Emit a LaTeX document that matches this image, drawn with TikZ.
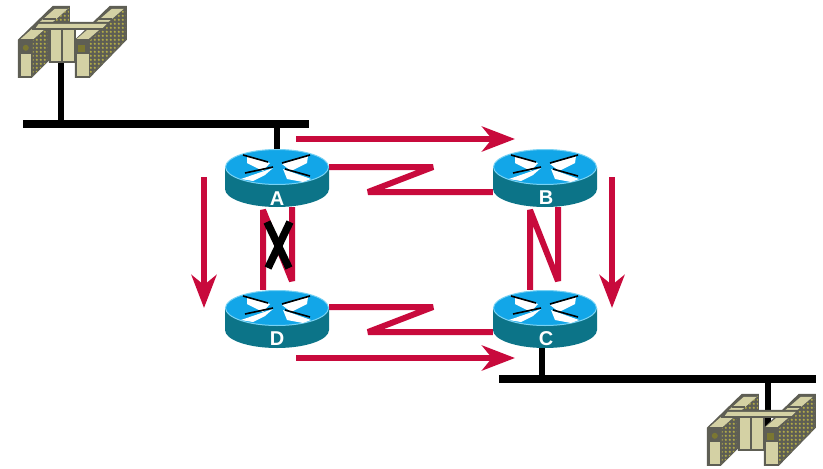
\documentclass[tikz,border=0pt]{standalone}
\usepackage{fontspec}
\setsansfont{Liberation Sans}
\usetikzlibrary{arrows.meta}

\definecolor{linkred}{HTML}{C80A3C}
\definecolor{routertop}{HTML}{12A6E8}
\definecolor{routerrim}{HTML}{78D2F4}
\definecolor{routerside}{HTML}{0C7488}
\definecolor{serverdark}{HTML}{5E5E54}
\definecolor{serverlight}{HTML}{D4D1A4}
\definecolor{serverdot}{HTML}{B0AA48}

\tikzset{
    routerbox/.style={minimum width=104pt, minimum height=58pt, inner sep=0pt},
    serverbox/.style={minimum width=109pt, minimum height=72pt, inner sep=0pt},
    routername/.style={white, font=\sffamily\bfseries\fontsize{20}{20}\selectfont, inner sep=0pt},
    lan/.style={black, line width=7.5pt},
    stub/.style={black, line width=6pt},
    link/.style={linkred, line width=6pt, line join=bevel},
    flow/.style={linkred, line width=6pt, -{Stealth[length=33pt,width=25pt,inset=10pt]}},
    cross/.style={black, line width=7.5pt},
    router/.pic={
        \fill[routerside] (-52,-11) -- (-52,11) arc (180:360:52pt and 18pt) -- (52,-11) -- cycle;
        \fill[routertop, draw=routerrim, line width=1pt] (0,-11) ellipse (51.5pt and 17.5pt);
        \fill[white] (-30,-22) -- (-7,-15) -- (-14,-7) -- (-30,-15) -- cycle;
        \fill[white] (31,-22) -- (5,-14) -- (14,-7) -- (30,-15) -- cycle;
        \fill[white] (-36,1) -- (-4,-10) -- (-12,-3) -- (-24,3) -- cycle;
        \fill[white] (6,-9) -- (34,1) -- (26,4) -- (10,1) -- cycle;
        \draw[black, line width=1.6pt] (-34,-23) -- (-9,-16);
        \draw[black, line width=1.6pt] (33,-23) -- (5,-15);
        \draw[black, line width=1.6pt] (-32,-5) -- (-4,-11);
        \draw[black, line width=1.6pt] (8,-9) -- (33,-2);
    },
    server/.pic={
        % left bank
        \fill[serverdark] (0,34) -- (35,0) -- (52,0) -- (52,18) -- (31,18) -- (31,55) -- (14,72) -- (0,72) -- cycle;
        \begin{scope}
            \clip (15,35) -- (51,2) -- (51,17) -- (30,17) -- (30,55) -- (15,70) -- cycle;
            \foreach \i in {0,...,9} \foreach \j in {0,...,17}
                \fill[serverdot] (15+4*\i,2+4*\j) circle (1.2pt);
        \end{scope}
        \fill[serverlight] (3,33) -- (37,3) -- (50,3) -- (16,33) -- cycle;
        \draw[serverdark, line width=1.5pt] (14,23) -- (27,23) (25,13) -- (38,13);
        \fill[serverlight] (3,48) rectangle (13,70);
        \fill[serverdot!70!black] (8,42) circle (3pt);
        % right bank
        \fill[serverdark] (57,34) -- (92,0) -- (109,0) -- (109,34) -- (72,72) -- (57,72) -- cycle;
        \begin{scope}
            \clip (72,35) -- (108,2) -- (108,34) -- (72,70) -- cycle;
            \foreach \i in {0,...,9} \foreach \j in {0,...,17}
                \fill[serverdot] (73+4*\i,2+4*\j) circle (1.2pt);
        \end{scope}
        \fill[serverlight] (59,33) -- (94,3) -- (106,3) -- (71,33) -- cycle;
        \draw[serverdark, line width=1.5pt] (70,23) -- (83,23) (81,13) -- (94,13);
        \fill[serverlight] (59,48) rectangle (71,70);
        \fill[serverdot!70!black] (60,39) rectangle (67,46);
        % middle cabinet
        \fill[serverdark] (13,23) -- (19,16) -- (93,16) -- (86,24) -- (58,24) -- (58,57) -- (31,57) -- (31,24) -- cycle;
        \fill[serverlight] (18,22) -- (21,18) -- (89,18) -- (85,22) -- cycle;
        \fill[serverlight] (33,24) rectangle (43.5,55);
        \fill[serverlight] (45.5,24) rectangle (56,55);
    },
}

\begin{document}
\begin{tikzpicture}[x=1pt,y=-1pt]
    \useasboundingbox (0,0) rectangle (823,469);

    \node[routerbox] (A) at (277,178) {};
    \node[routerbox] (B) at (545,178) {};
    \node[routerbox] (C) at (545,319) {};
    \node[routerbox] (D) at (277,319) {};
    \node[serverbox] (S1) at (72.5,42) {};
    \node[serverbox] (S2) at (761.5,430) {};

    \coordinate (L1) at (23,124);
    \coordinate (L2) at (309,124);
    \coordinate (L3) at (499,379);
    \coordinate (L4) at (816,379);

    \coordinate (AB1) at (433,167);
    \coordinate (AB2) at (368,192);
    \coordinate (DC1) at (433,307);
    \coordinate (DC2) at (368,332);
    \coordinate (AD1) at (263,210);
    \coordinate (AD2) at (292,281);
    \coordinate (BC1) at (530,210);
    \coordinate (BC2) at (558,281);

    \coordinate (F1) at (296,139);
    \coordinate (F2) at (515,139);
    \coordinate (F3) at (204,177);
    \coordinate (F4) at (204,308);
    \coordinate (F5) at (296,358);
    \coordinate (F6) at (515,358);
    \coordinate (F7) at (612,177);
    \coordinate (F8) at (612,308);

    \coordinate (X1) at (267,222);
    \coordinate (X2) at (289,268);
    \coordinate (X3) at (290,222);
    \coordinate (X4) at (268,268);

%lans
    \draw[stub] ([xshift=-11.5pt]S1.center) -- ([xshift=-11.5pt]S1.center |- L1);
    \draw[stub] (A.center) -- (A.center |- L1);
    \draw[stub] (C.center -| 542,0) -- (542,379);
    \draw[stub] ([xshift=6.5pt]S2.center) -- ([xshift=6.5pt]S2.center |- L3);
    \draw[lan] (L1) -- (L2);
    \draw[lan] (L3) -- (L4);

%links
    \draw[link] ([yshift=11pt]A.center -| A.east) -- (AB1) -- (AB2) -- ([yshift=-14pt]B.center -| B.west);
    \draw[link] ([yshift=12pt]D.center -| D.east) -- (DC1) -- (DC2) -- ([yshift=-13pt]C.center -| C.west);
    \draw[link] ([xshift=-14pt]D.north) -- (AD1) -- (AD2) -- ([xshift=15pt]A.south);
    \draw[link] ([xshift=-15pt]C.north) -- (BC1) -- (BC2) -- ([xshift=13pt]B.south);

    \pic at (A) {router};
    \pic at (B) {router};
    \pic at (C) {router};
    \pic at (D) {router};
    \pic at (S1.north west) {server};
    \pic at (S2.north west) {server};

    \draw[cross] (X1) -- (X2);
    \draw[cross] (X3) -- (X4);

    \draw[flow] (F1) -- (F2);
    \draw[flow] (F3) -- (F4);
    \draw[flow] (F5) -- (F6);
    \draw[flow] (F7) -- (F8);

%labels
    \node[routername] (LA) at (277,199) {A};
    \node[routername] (LB) at (546,198) {B};
    \node[routername] (LC) at (546,339) {C};
    \node[routername] (LD) at (277,339) {D};

\end{tikzpicture}
\end{document}
